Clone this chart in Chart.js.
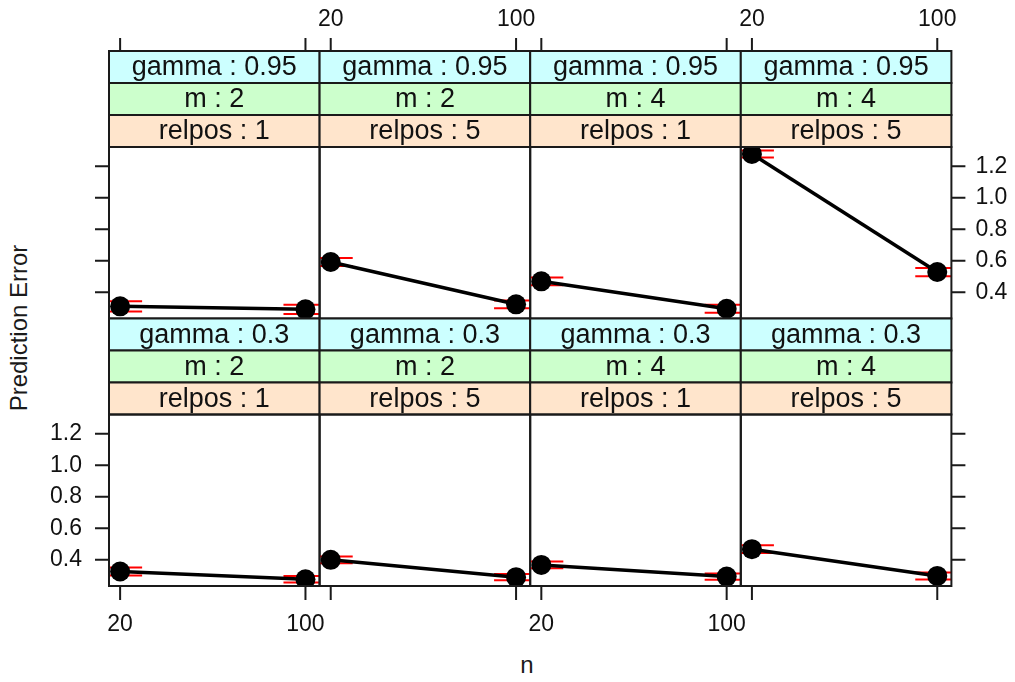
<!DOCTYPE html>
<html lang="en">
<head>
<meta charset="UTF-8">
<title>Prediction Error by n</title>
<script src="https://cdn.jsdelivr.net/npm/chart.js"></script>
<style>
  body { margin: 0; background: #fff; }
  #wrap { position: relative; width: 1015px; height: 682px; font-family: "Liberation Sans", Arial, sans-serif; }
  #wrap canvas { position: absolute; left: 0; top: 0; }
  #ylab { position: absolute; left: 19px; top: 328px; transform: translate(-50%, -50%) rotate(-90deg); font-size: 24px; white-space: nowrap; color: #1a1a1a; }
  #xlab { position: absolute; left: 527px; top: 665px; transform: translate(-50%, -50%); font-size: 24px; color: #1a1a1a; }
</style>
</head>
<body>
<div id="wrap">
  <div id="ylab">Prediction Error</div>
  <div id="xlab">n</div>
</div>
<script>
// data
const nValues = [20, 100];
const gammaLevels = ['0.95', '0.3'];        // top row, bottom row
const mLevels = ['2', '2', '4', '4'];       // per column
const relposLevels = ['1', '5', '1', '5'];  // per column
const meanGamma095 = [[0.311, 0.292], [0.593, 0.324], [0.470, 0.296], [1.279, 0.529]];
const seGamma095 = [[0.032, 0.030], [0.025, 0.025], [0.025, 0.025], [0.022, 0.026]];
const meanGamma03 = [[0.326, 0.277], [0.400, 0.290], [0.368, 0.294], [0.468, 0.298]];
const seGamma03 = [[0.026, 0.020], [0.022, 0.020], [0.022, 0.020], [0.025, 0.022]];
const yTicks = [0.4, 0.6, 0.8, 1.0, 1.2];
const xTicks = [20, 100];
const yMin = 0.234, yMax = 1.323;
const xMin = 15.2, xMax = 106.1;

// layout
const W = 1015, H = 682;
const panelLeft = 109, panelW = 210.6;
const stripH = 32;
const rowTop = [147, 414.5];
const panelH = 171.5;
const stripColors = ['#ccffff', '#ccffcc', '#ffe5cc'];
const FONT = '"Liberation Sans", Arial, sans-serif';
const INK = '#1a1a1a';

// strips, frame and alternating axes (lattice style)
const latticePlugin = {
    id: 'lattice',
    afterDraw(chart, args, opts) {
        const ctx = chart.ctx, a = chart.chartArea;
        const xs = chart.scales.x, ys = chart.scales.y;
        const row = opts.row, col = opts.col;
        const w = a.right - a.left;
        ctx.save();

        const labels = ['gamma : ' + gammaLevels[row], 'm : ' + mLevels[col], 'relpos : ' + relposLevels[col]];
        ctx.font = '27px ' + FONT;
        ctx.textAlign = 'center';
        ctx.textBaseline = 'middle';
        ctx.lineWidth = 2;
        ctx.strokeStyle = INK;
        labels.forEach((t, k) => {
            const y = a.top - (3 - k) * stripH;
            ctx.fillStyle = stripColors[k];
            ctx.fillRect(a.left, y, w, stripH);
            ctx.strokeRect(a.left, y, w, stripH);
            ctx.fillStyle = '#111';
            ctx.fillText(t, (a.left + a.right) / 2, y + stripH / 2 + 1);
        });

        // panel frame
        ctx.strokeRect(a.left, a.top, w, a.bottom - a.top);

        ctx.font = '23px ' + FONT;
        ctx.fillStyle = '#111';
        ctx.beginPath();
        if (row === 0) {
            const top = a.top - 3 * stripH;
            xTicks.forEach(v => {
                const x = xs.getPixelForValue(v);
                ctx.moveTo(x, top); ctx.lineTo(x, top - 13);
                if (col % 2 === 1) { ctx.textAlign = 'center'; ctx.fillText(String(v), x, top - 31); }
            });
        } else {
            xTicks.forEach(v => {
                const x = xs.getPixelForValue(v);
                ctx.moveTo(x, a.bottom); ctx.lineTo(x, a.bottom + 14);
                if (col % 2 === 0) { ctx.textAlign = 'center'; ctx.fillText(String(v), x, a.bottom + 39); }
            });
        }
        if (col === 0) {
            yTicks.forEach(v => {
                const y = ys.getPixelForValue(v);
                ctx.moveTo(a.left, y); ctx.lineTo(a.left - 14, y);
                if (row === 1) { ctx.textAlign = 'right'; ctx.fillText(v.toFixed(1), a.left - 27, y); }
            });
        }
        if (col === 3) {
            yTicks.forEach(v => {
                const y = ys.getPixelForValue(v);
                ctx.moveTo(a.right, y); ctx.lineTo(a.right + 14, y);
                if (row === 0) { ctx.textAlign = 'left'; ctx.fillText(v.toFixed(1), a.right + 24, y); }
            });
        }
        ctx.stroke();
        ctx.restore();
    }
};

const wrap = document.getElementById('wrap');
for (let row = 0; row < 2; row++) {
    for (let col = 0; col < 4; col++) {
        const mean = row === 0 ? meanGamma095[col] : meanGamma03[col];
        const se = row === 0 ? seGamma095[col] : seGamma03[col];
        const canvas = document.createElement('canvas');
        canvas.width = W;
        canvas.height = H;
        wrap.appendChild(canvas);
        const left = panelLeft + col * panelW, top = rowTop[row];
        new Chart(canvas, {
            type: 'line',
            data: {
                datasets: [{
                    data: nValues.map((n, i) => ({ x: n, y: mean[i] })),
                    borderColor: '#000',
                    borderWidth: 3.5,
                    pointRadius: 10,
                    pointBackgroundColor: '#000',
                    pointBorderWidth: 0,
                    clip: 0
                }, {
                    data: nValues.flatMap((n, i) => [{ x: n, y: mean[i] + se[i] }, { x: n, y: mean[i] - se[i] }]),
                    showLine: false,
                    pointStyle: 'line',
                    pointRadius: 22,
                    pointBorderColor: '#ff0000',
                    pointBorderWidth: 2,
                    clip: 0
                }]
            },
            options: {
                responsive: false,
                animation: false,
                events: [],
                layout: { padding: { left: left, top: top, right: W - left - panelW, bottom: H - top - panelH } },
                scales: {
                    x: { type: 'linear', display: false, min: xMin, max: xMax },
                    y: { type: 'linear', display: false, min: yMin, max: yMax }
                },
                plugins: {
                    legend: { display: false },
                    tooltip: { enabled: false },
                    lattice: { row: row, col: col }
                }
            },
            plugins: [latticePlugin]
        });
    }
}
</script>
</body>
</html>
